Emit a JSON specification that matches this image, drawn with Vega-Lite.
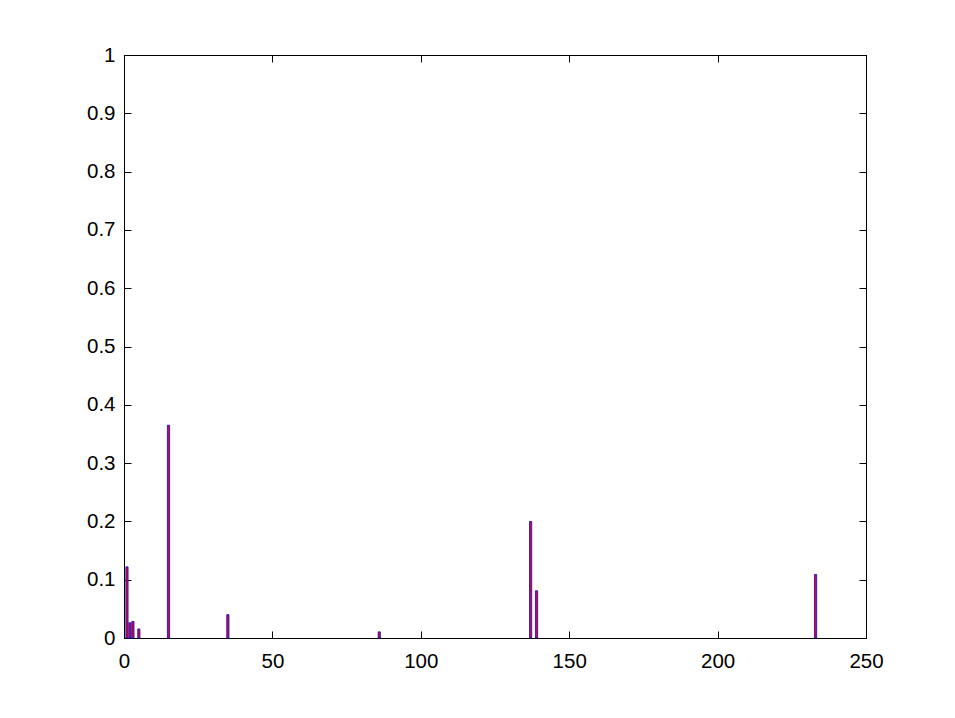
{
  "$schema": "https://vega.github.io/schema/vega-lite/v6.json",
  "width": 742,
  "height": 583,
  "autosize": {"type": "none"},
  "padding": {"left": 124, "top": 55, "right": 89, "bottom": 80},
  "background": "white",
  "config": {
    "view": {"stroke": "black", "strokeWidth": 1},
    "axis": {
      "labelFont": "Liberation Sans",
      "labelFontSize": 20.5,
      "labelColor": "black",
      "domainColor": "black",
      "tickColor": "black",
      "tickSize": -7,
      "grid": false,
      "title": null
    }
  },
  "data": {
    "values": [
      {"x": 1, "v": 0.122},
      {"x": 2, "v": 0.026},
      {"x": 3, "v": 0.0285},
      {"x": 5, "v": 0.0155},
      {"x": 15, "v": 0.365},
      {"x": 35, "v": 0.040},
      {"x": 86, "v": 0.0105},
      {"x": 137, "v": 0.200},
      {"x": 139, "v": 0.081},
      {"x": 233, "v": 0.109}
    ]
  },
  "layer": [
    {
      "mark": {"type": "bar", "size": 2.2, "fill": "#e0002a", "stroke": "#1a1acc", "strokeWidth": 0.9},
      "encoding": {
        "x": {"field": "x", "type": "quantitative", "scale": {"domain": [0, 250], "nice": false, "padding": 0},
          "axis": {"orient": "bottom", "values": [0, 50, 100, 150, 200, 250], "labelPadding": 20, "labelFlush": false}},
        "y": {"field": "v", "type": "quantitative", "scale": {"domain": [0, 1], "nice": false, "padding": 0},
          "axis": {"orient": "left", "values": [0, 0.1, 0.2, 0.3, 0.4, 0.5, 0.6, 0.7, 0.8, 0.9, 1], "format": "~g", "labelPadding": 16, "labelFlush": false}}
      }
    },
    {
      "mark": {"type": "point", "opacity": 0},
      "encoding": {
        "x": {"field": "x", "type": "quantitative", "scale": {"domain": [0, 250], "nice": false, "padding": 0},
          "axis": {"orient": "top", "values": [0, 50, 100, 150, 200, 250], "labels": false}},
        "y": {"field": "v", "type": "quantitative", "scale": {"domain": [0, 1], "nice": false, "padding": 0},
          "axis": {"orient": "right", "values": [0, 0.1, 0.2, 0.3, 0.4, 0.5, 0.6, 0.7, 0.8, 0.9, 1], "labels": false}}
      }
    }
  ],
  "resolve": {"axis": {"x": "independent", "y": "independent"}}
}
